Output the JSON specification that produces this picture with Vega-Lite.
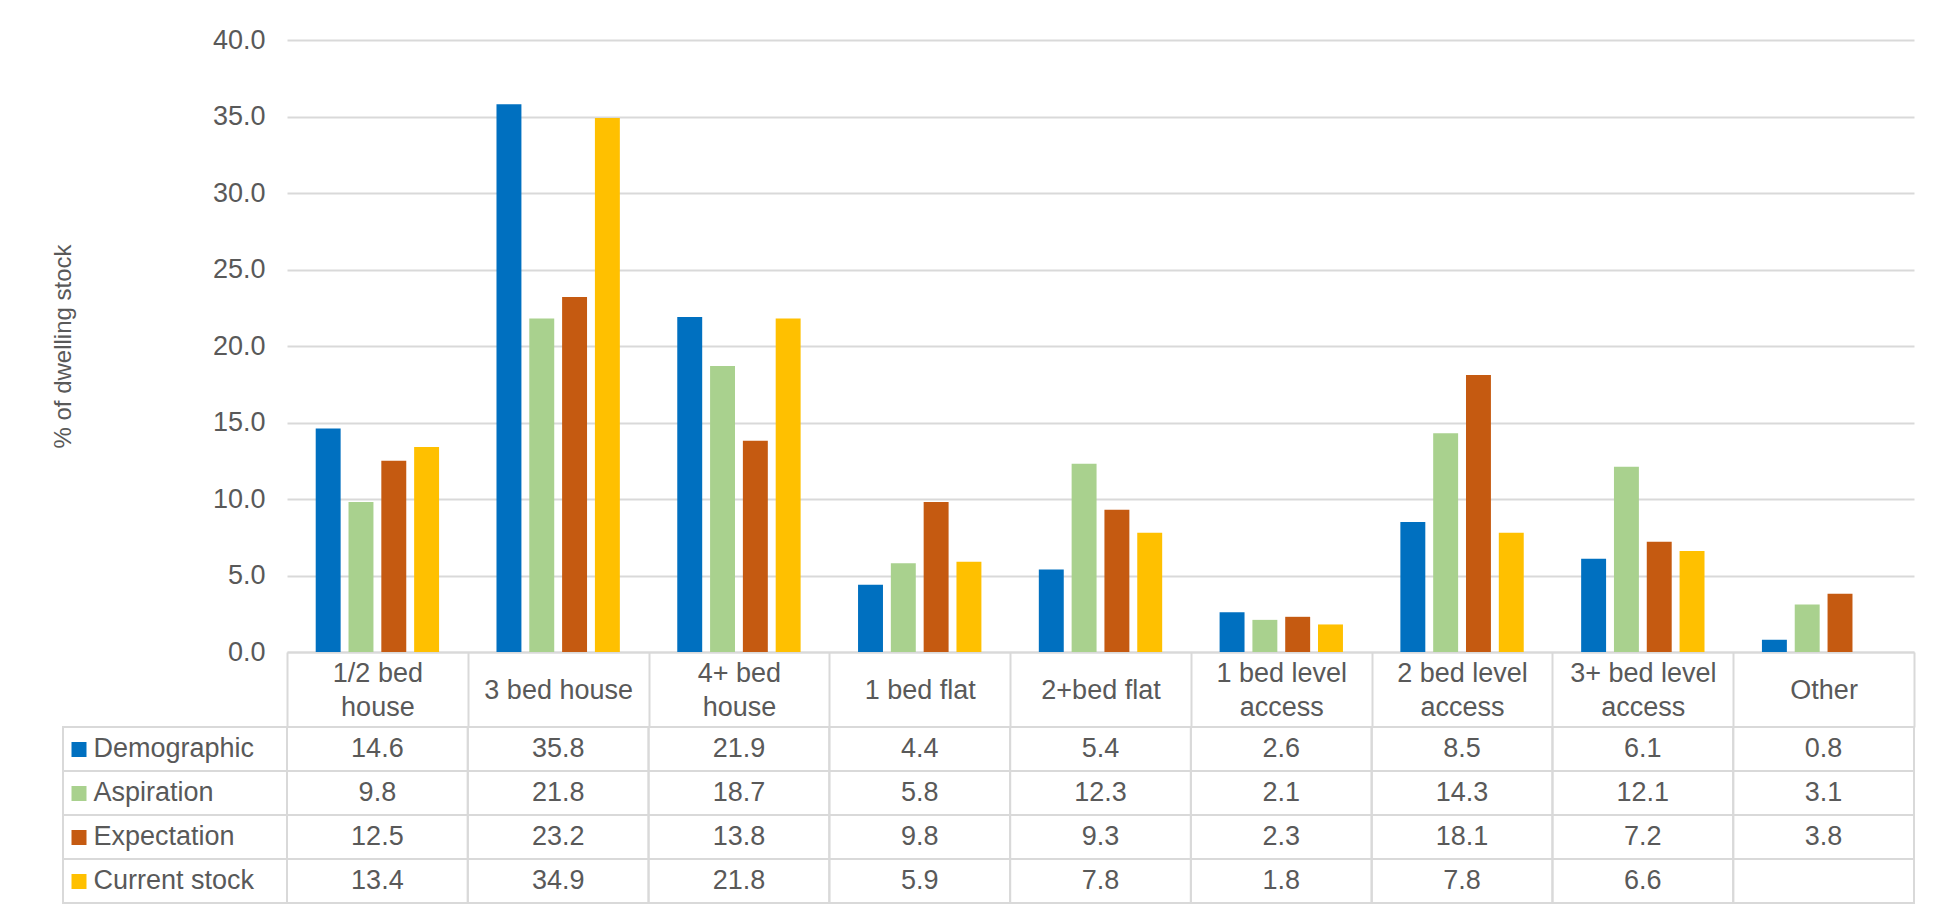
{
  "$schema": "https://vega.github.io/schema/vega-lite/v6.json",
  "width": 1851,
  "height": 863,
  "autosize": "none",
  "padding": {"left": 63, "top": 40, "right": 32, "bottom": 11},
  "background": "white",
  "config": {
    "view": {"stroke": null},
    "font": "Liberation Sans",
    "axis": {"labelFont": "Liberation Sans", "titleFont": "Liberation Sans", "labelColor": "#595959", "titleColor": "#595959", "labelFontWeight": "normal", "titleFontWeight": "normal"}
  },
  "data": {"values": [
    {"category": "1/2 bed house", "series": "Demographic", "value": 14.6},
    {"category": "3 bed house", "series": "Demographic", "value": 35.8},
    {"category": "4+ bed house", "series": "Demographic", "value": 21.9},
    {"category": "1 bed flat", "series": "Demographic", "value": 4.4},
    {"category": "2+bed flat", "series": "Demographic", "value": 5.4},
    {"category": "1 bed level access", "series": "Demographic", "value": 2.6},
    {"category": "2 bed level access", "series": "Demographic", "value": 8.5},
    {"category": "3+ bed level access", "series": "Demographic", "value": 6.1},
    {"category": "Other", "series": "Demographic", "value": 0.8},
    {"category": "1/2 bed house", "series": "Aspiration", "value": 9.8},
    {"category": "3 bed house", "series": "Aspiration", "value": 21.8},
    {"category": "4+ bed house", "series": "Aspiration", "value": 18.7},
    {"category": "1 bed flat", "series": "Aspiration", "value": 5.8},
    {"category": "2+bed flat", "series": "Aspiration", "value": 12.3},
    {"category": "1 bed level access", "series": "Aspiration", "value": 2.1},
    {"category": "2 bed level access", "series": "Aspiration", "value": 14.3},
    {"category": "3+ bed level access", "series": "Aspiration", "value": 12.1},
    {"category": "Other", "series": "Aspiration", "value": 3.1},
    {"category": "1/2 bed house", "series": "Expectation", "value": 12.5},
    {"category": "3 bed house", "series": "Expectation", "value": 23.2},
    {"category": "4+ bed house", "series": "Expectation", "value": 13.8},
    {"category": "1 bed flat", "series": "Expectation", "value": 9.8},
    {"category": "2+bed flat", "series": "Expectation", "value": 9.3},
    {"category": "1 bed level access", "series": "Expectation", "value": 2.3},
    {"category": "2 bed level access", "series": "Expectation", "value": 18.1},
    {"category": "3+ bed level access", "series": "Expectation", "value": 7.2},
    {"category": "Other", "series": "Expectation", "value": 3.8},
    {"category": "1/2 bed house", "series": "Current stock", "value": 13.4},
    {"category": "3 bed house", "series": "Current stock", "value": 34.9},
    {"category": "4+ bed house", "series": "Current stock", "value": 21.8},
    {"category": "1 bed flat", "series": "Current stock", "value": 5.9},
    {"category": "2+bed flat", "series": "Current stock", "value": 7.8},
    {"category": "1 bed level access", "series": "Current stock", "value": 1.8},
    {"category": "2 bed level access", "series": "Current stock", "value": 7.8},
    {"category": "3+ bed level access", "series": "Current stock", "value": 6.6},
    {"category": "Other", "series": "Current stock", "value": null}
  ]},
  "encoding": {
    "x": {
      "field": "category", "type": "nominal", "sort": null,
      "scale": {
        "domain": ["1/2 bed house", "3 bed house", "4+ bed house", "1 bed flat", "2+bed flat", "1 bed level access", "2 bed level access", "3+ bed level access", "Other"],
        "range": [224, 1851], "paddingInner": 0, "paddingOuter": 0
      },
      "axis": {
        "title": null, "orient": "bottom", "offset": -251,
        "domain": true, "domainColor": "#d9d9d9", "domainWidth": 2,
        "ticks": true, "tickBand": "extent", "tickSize": 75, "tickColor": "#d9d9d9", "tickWidth": 2,
        "labelAngle": 0, "labelFontSize": 27, "labelPadding": -37, "labelLineHeight": 34, "labelLimit": 400,
        "labelBaseline": {"condition": {"test": "datum.value == '3 bed house' || datum.value == '1 bed flat' || datum.value == '2+bed flat' || datum.value == 'Other'", "value": "middle"}, "value": "line-bottom"},
        "labelExpr": "datum.label == '1/2 bed house' ? ['1/2 bed', 'house'] : datum.label == '4+ bed house' ? ['4+ bed', 'house'] : indexof(datum.label, 'level access') > 0 ? [replace(datum.label, ' access', ''), 'access'] : datum.label",
        "grid": false
      }
    }
  },
  "layer": [
    {
      "mark": {"type": "bar"},
      "encoding": {
        "xOffset": {"field": "series", "type": "nominal", "sort": null,
          "scale": {"domain": ["Demographic", "Aspiration", "Expectation", "Current stock"], "paddingInner": 0.24, "paddingOuter": 0.875}},
        "y": {
          "field": "value", "type": "quantitative",
          "scale": {"domain": [0, 40], "range": [612, 0], "nice": false, "zero": true},
          "axis": {
            "orient": "left", "offset": -224, "values": [0, 5, 10, 15, 20, 25, 30, 35, 40], "format": ".1f",
            "domain": false, "ticks": false, "labelFontSize": 27, "labelPadding": 22,
            "grid": true, "gridColor": "#d9d9d9", "gridWidth": 2,
            "title": "% of dwelling stock", "titleFontSize": 24, "titlePadding": 137
          }
        },
        "color": {
          "field": "series", "type": "nominal",
          "scale": {"domain": ["Demographic", "Aspiration", "Expectation", "Current stock"], "range": ["#0070C0", "#A9D18E", "#C55A11", "#FFC000"]},
          "legend": null
        }
      }
    },
    {
      "encoding": {
        "y": {
          "field": "series", "type": "nominal", "sort": null,
          "scale": {"domain": ["Demographic", "Aspiration", "Expectation", "Current stock"], "range": [687, 863], "paddingInner": 0, "paddingOuter": 0},
          "axis": {
            "orient": "left", "offset": -23, "title": null, "domain": false, "grid": false, "zindex": 1,
            "ticks": true, "tickSize": 15, "tickWidth": 15,
            "tickColor": {"condition": [
              {"test": "datum.value === 'Demographic'", "value": "#0070C0"},
              {"test": "datum.value === 'Aspiration'", "value": "#A9D18E"},
              {"test": "datum.value === 'Expectation'", "value": "#C55A11"}
            ], "value": "#FFC000"},
            "labelAlign": "left", "labelPadding": -22, "labelFontSize": 27, "labelLimit": 300
          }
        }
      },
      "layer": [
        {
          "mark": {"type": "rect", "fill": "transparent", "stroke": "#d9d9d9", "strokeWidth": 2},
          "encoding": {"x": {"value": 0}, "x2": {"value": "width"}}
        },
        {
          "mark": {"type": "rect", "fill": "transparent", "stroke": "#d9d9d9", "strokeWidth": 2}
        },
        {
          "transform": [{"filter": "isValid(datum.value)"}],
          "mark": {"type": "text", "fontSize": 27, "color": "#595959", "font": "Liberation Sans", "baseline": "middle", "align": "center"},
          "encoding": {"text": {"field": "value", "type": "quantitative", "format": ".1f"}}
        }
      ]
    }
  ],
  "resolve": {"scale": {"y": "independent"}, "axis": {"y": "independent"}}
}
